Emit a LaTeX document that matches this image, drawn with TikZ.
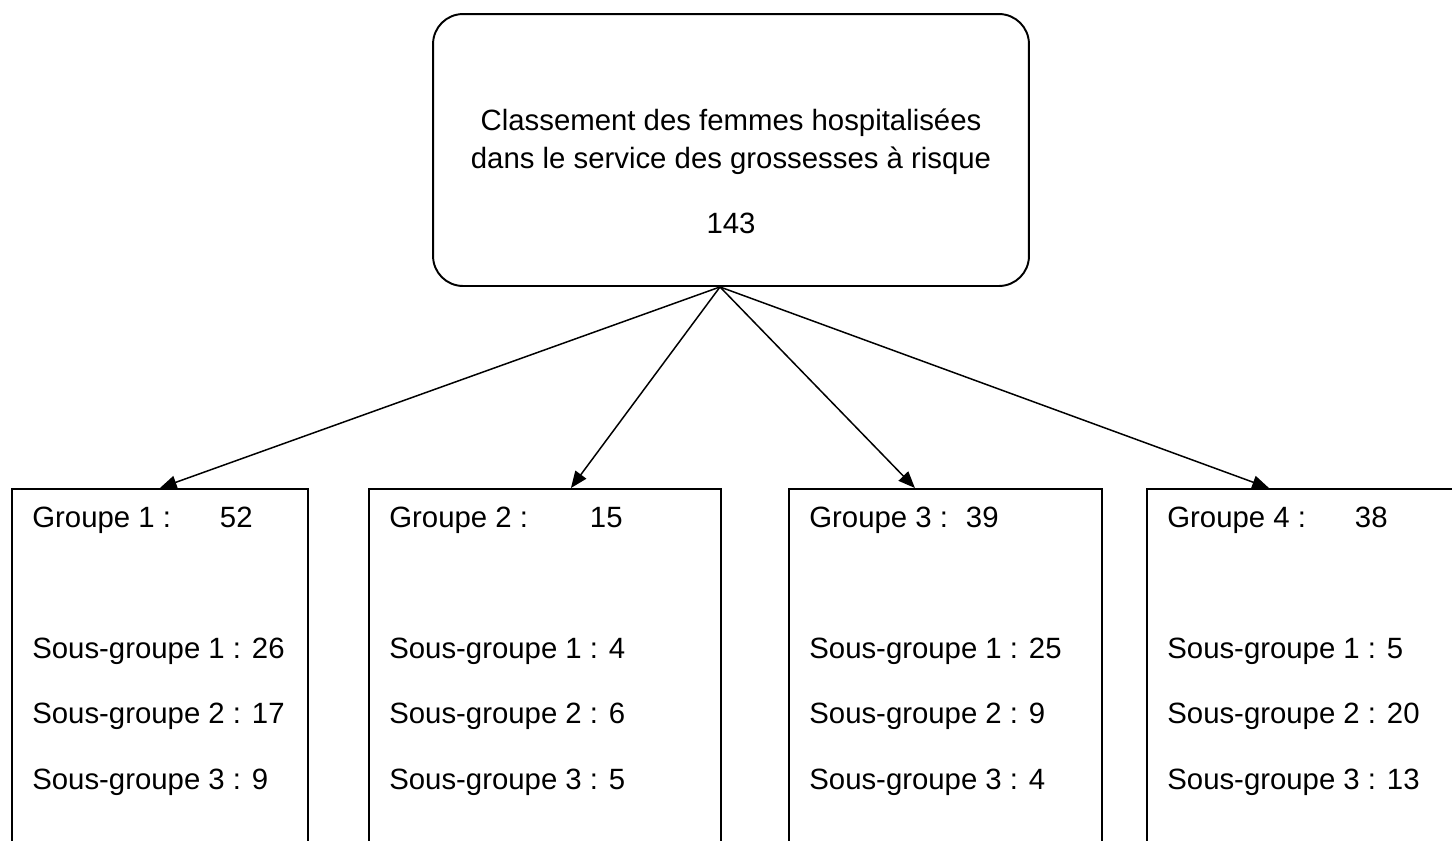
\documentclass[tikz,border=0pt]{standalone}
\usepackage{fontspec}
\setmainfont{Liberation Sans}
\usetikzlibrary{arrows.meta}

\tikzset{
  grpbox/.style={draw, line width=1.1pt, anchor=north west, minimum height=8cm, inner sep=0pt},
  grptxt/.style={anchor=north west, inner sep=0pt, align=left, font=\fontsize{16.7}{37.2}\selectfont},
  fleche/.style={-{Triangle[length=9.5pt,width=7.6pt]}, line width=0.85pt}
}

\begin{document}
\begin{tikzpicture}[x=0.02cm, y=-0.02cm]
\useasboundingbox (0,0) rectangle (1452,840);
\clip (0,0) rectangle (1452,840);
% top box
\node[draw, line width=1.1pt, rounded corners=0.6cm, minimum width=11.92cm, minimum height=5.44cm] (top) at (731,150) {};
\node[anchor=north, inner sep=0pt, align=center, font=\fontsize{16.7}{21.6}\selectfont] (toptxt) at (731,109)
  {Classement des femmes hospitalisées\\dans le service des grossesses à risque\\[15.3pt]143};
% groups
\node[grpbox, minimum width=5.92cm] (g1) at (11,488) {};
\node[grpbox, minimum width=7.04cm] (g2) at (368,488) {};
\node[grpbox, minimum width=6.26cm] (g3) at (788,488) {};
\node[grpbox, minimum width=6.6cm] (g4) at (1146,488) {};
\node[grptxt] (t1) at (32,507) {Groupe 1 :\hspace{0.98cm}52\\~\\Sous-groupe 1 : 26\\Sous-groupe 2 : 17\\Sous-groupe 3 : 9};
\node[grptxt] (t2) at (389,507) {Groupe 2 :\hspace{1.24cm}15\\~\\Sous-groupe 1 : 4\\Sous-groupe 2 : 6\\Sous-groupe 3 : 5};
\node[grptxt] (t3) at (809,507) {Groupe 3 :\hspace{0.36cm}39\\~\\Sous-groupe 1 : 25\\Sous-groupe 2 : 9\\Sous-groupe 3 : 4};
\node[grptxt] (t4) at (1167,507) {Groupe 4 :\hspace{0.98cm}38\\~\\Sous-groupe 1 : 5\\Sous-groupe 2 : 20\\Sous-groupe 3 : 13};
% arrows
\coordinate (src) at ([xshift=-0.22cm]top.south);
\draw[fleche] (src) -- (g1.north);
\draw[fleche] (src) -- ([xshift=0.52cm]g2.north);
\draw[fleche] (src) -- ([xshift=-0.61cm]g3.north);
\draw[fleche] (src) -- ([xshift=-0.86cm]g4.north);
\end{tikzpicture}
\end{document}
